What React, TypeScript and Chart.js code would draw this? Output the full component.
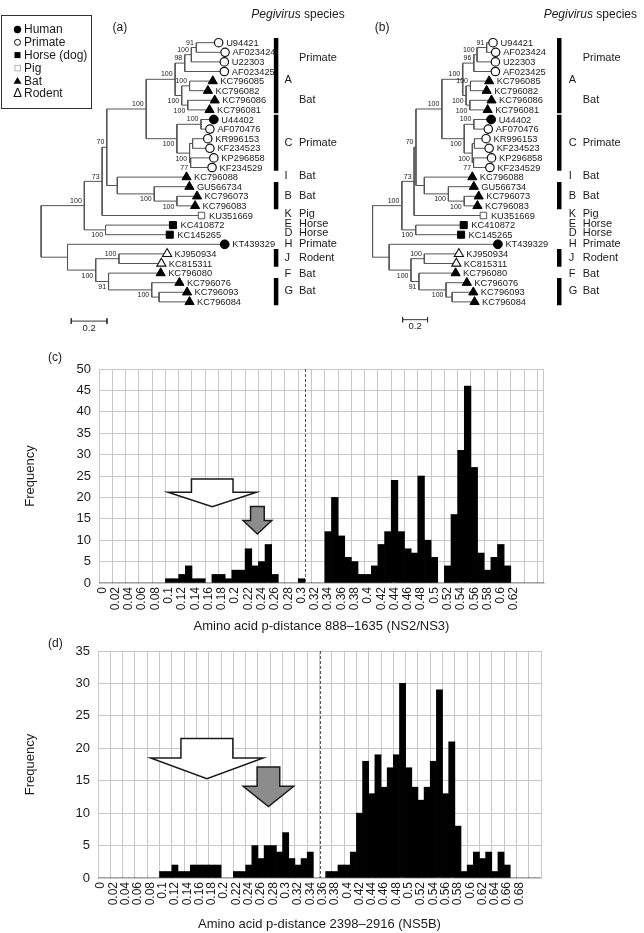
import React, { useEffect, useRef } from 'react';
import { Chart, registerables } from 'chart.js';

Chart.register(...registerables);

const FONT = "'Liberation Sans', Arial, Helvetica, sans-serif";
Chart.defaults.font.family = FONT;
Chart.defaults.color = '#1a1a1a';

// ================= Histogram data (c) and (d) =================
const BIN_WIDTH = 0.01;
const BINS_C = Array.from({ length: 67 }, (_, i) => +(i * BIN_WIDTH).toFixed(2));
const FREQ_C = [
  0, 0, 0, 0, 0, 0, 0, 0, 0, 0,
  1, 1, 2, 4, 1, 1, 0, 2, 2, 1,
  3, 3, 8, 4, 5, 9, 2, 0, 0, 0,
  1, 0, 0, 0, 12, 20, 11, 6, 5, 2,
  2, 4, 9, 12, 24, 12, 8, 7, 25, 10,
  6, 0, 4, 16, 31, 46, 27, 7, 3, 6,
  9, 4, 0, 0, 0, 0, 0,
];
const BINS_D = Array.from({ length: 72 }, (_, i) => +(i * BIN_WIDTH).toFixed(2));
const FREQ_D = [
  0, 0, 0, 0, 0, 0, 0, 0, 0, 0,
  1, 1, 2, 1, 1, 2, 2, 2, 2, 2,
  0, 0, 1, 1, 2, 5, 3, 5, 5, 4,
  7, 3, 2, 3, 4, 0, 0, 1, 1, 2,
  2, 4, 10, 18, 13, 19, 14, 17, 19, 30,
  17, 14, 12, 14, 18, 29, 13, 21, 8, 1,
  2, 4, 3, 4, 1, 4, 2, 0, 0, 0,
  0, 0,
];
const LAST_TICK_C = 0.62;
const LAST_TICK_D = 0.68;
const Y_MAX_C = 50;
const Y_MAX_D = 35;
const Y_STEP = 5;
const CUTOFF_C = 0.305;
const CUTOFF_D = 0.355;
const TITLE_C = 'Amino acid p-distance 888\u20131635 (NS2/NS3)';
const TITLE_D = 'Amino acid p-distance 2398\u20132916 (NS5B)';
// block arrows: centre (p-distance), half widths of body/head, top, shoulder and tip (frequency)
const ARROWS_C = [
  { cx: 0.1655, body: 0.0313, head: 0.0666, top: 24.3, shoulder: 21.2, tip: 17.8, fill: '#ffffff' },
  { cx: 0.2335, body: 0.0103, head: 0.0216, top: 17.9, shoulder: 14.6, tip: 11.45, fill: '#8c8c8c' },
];
const ARROWS_D = [
  { cx: 0.172, body: 0.0422, head: 0.0915, top: 21.5, shoulder: 18.5, tip: 15.3, fill: '#ffffff' },
  { cx: 0.272, body: 0.0184, head: 0.0411, top: 17.1, shoulder: 14.15, tip: 11.0, fill: '#8c8c8c' },
];

// ================= Tree data (a) and (b) =================
const LEAF_NAMES = [
  'U94421', 'AF023424', 'U22303', 'AF023425', 'KC796085', 'KC796082', 'KC796086', 'KC796081',
  'U44402', 'AF070476', 'KR996153', 'KF234523', 'KP296858', 'KF234529', 'KC796088', 'GU566734',
  'KC796073', 'KC796083', 'KU351669', 'KC410872', 'KC145265', 'KT439329', 'KJ950934', 'KC815311',
  'KC796080', 'KC796076', 'KC796093', 'KC796084',
];
const LEAF_HOST = [
  'primate', 'primate', 'primate', 'primate', 'bat', 'bat', 'bat', 'bat',
  'human', 'primate', 'primate', 'primate', 'primate', 'primate', 'bat', 'bat',
  'bat', 'bat', 'pig', 'horse', 'horse', 'human', 'rodent', 'rodent',
  'bat', 'bat', 'bat', 'bat',
];
const LEAF_DEPTH_A = [
  0.995, 1.031, 1.027, 1.027, 0.962, 0.935, 0.973, 0.944,
  0.968, 0.946, 0.934, 0.946, 0.968, 0.958, 0.815, 0.831,
  0.874, 0.863, 0.899, 0.739, 0.721, 1.029, 0.706, 0.674,
  0.670, 0.775, 0.818, 0.832,
];
const LEAF_DEPTH_B = [
  0.966, 0.987, 0.985, 0.985, 0.935, 0.915, 0.954, 0.923,
  0.951, 0.928, 0.910, 0.935, 0.954, 0.941, 0.800, 0.812,
  0.851, 0.841, 0.889, 0.731, 0.710, 1.005, 0.692, 0.672,
  0.666, 0.756, 0.808, 0.818,
];
const TOPOLOGY: Record<string, (string | number)[]> = {
  root: ['N1', 'L'],
  N1: ['N2', 'Horse'],
  N2: ['N3', 18],
  N3: ['AC', 'IB'],
  AC: ['A', 'C'],
  A: ['P3', 'BatA'],
  P3: ['P2', 3],
  P2: ['P1', 2],
  P1: [0, 1],
  BatA: ['B1', 'B2'],
  B1: [4, 5],
  B2: [6, 7],
  C: ['C1', 'C2'],
  C1: [8, 9],
  C2: ['C2a', 'C2b'],
  C2a: [10, 11],
  C2b: [12, 13],
  IB: [14, 'B'],
  B: [15, 'Bb'],
  Bb: [16, 17],
  Horse: [19, 20],
  L: [21, 'R'],
  R: ['Rod', 'Q'],
  Rod: [22, 23],
  Q: [24, 'G'],
  G: [25, 'G2'],
  G2: [26, 27],
};
const NODE_DEPTH_A: Record<string, number> = {
  root: 0, N1: 0.242, N2: 0.342, N3: 0.368, AC: 0.589, A: 0.751, P3: 0.805, P2: 0.842, P1: 0.870,
  BatA: 0.788, B1: 0.832, B2: 0.822, C: 0.761, C1: 0.896, C2: 0.832, C2a: 0.849, C2b: 0.838,
  IB: 0.427, B: 0.634, Bb: 0.761, Horse: 0.361, L: 0.148, R: 0.306, Rod: 0.436, Q: 0.378, G: 0.620, G2: 0.661,
};
const NODE_DEPTH_B: Record<string, number> = {
  root: 0, N1: 0.235, N2: 0.333, N3: 0.348, AC: 0.556, A: 0.723, P3: 0.812, P2: 0.838, P1: 0.915,
  BatA: 0.750, B1: 0.785, B2: 0.780, C: 0.735, C1: 0.812, C2: 0.800, C2a: 0.817, C2b: 0.810,
  IB: 0.415, B: 0.608, Bb: 0.735, Horse: 0.346, L: 0.133, R: 0.308, Rod: 0.415, Q: 0.372, G: 0.589, G2: 0.638,
};
const BOOT_A: [string, string, string][] = [
  ['N1', '100', 'a'], ['N2', '73', 'a'], ['N3', '70', 'a'], ['AC', '100', 'a'], ['A', '100', 'a'],
  ['P3', '98', 'a'], ['P2', '100', 'a'], ['P1', '91', 'a'], ['BatA', '100', 'b'], ['B1', '100', 'a'],
  ['B2', '100', 'b'], ['C', '100', 'b'], ['C1', '100', 'a'], ['C2', '100', 'b'], ['C2b', '77', 'b'],
  ['B', '100', 'b'], ['Bb', '100', 'b'], ['Horse', '100', 'b'], ['Rod', '100', 'a'], ['R', '100', 'b'],
  ['Q', '91', 'b'], ['G', '100', 'b'],
];
const BOOT_B: [string, string, string][] = [
  ['N1', '100', 'a'], ['N2', '73', 'a'], ['N3', '70', 'a'], ['AC', '100', 'a'], ['A', '100', 'a'],
  ['P3', '96', 'a'], ['P2', '100', 'a'], ['P1', '91', 'a'], ['BatA', '100', 'b'], ['B1', '100', 'a'],
  ['B2', '100', 'b'], ['C', '100', 'b'], ['C1', '100', 'a'], ['C2', '100', 'b'], ['C2b', '77', 'b'],
  ['B', '100', 'b'], ['Bb', '100', 'b'], ['Horse', '100', 'b'], ['Rod', '100', 'a'], ['R', '100', 'b'],
  ['Q', '91', 'b'], ['G', '100', 'b'],
];
const CLADE_BARS: [number, number][] = [[0, 7], [8, 13], [15, 17], [22, 23], [25, 27]];
const CLADE_LETTERS: [string, number][] = [
  ['A', 3.9], ['C', 10.4], ['I', 13.84], ['B', 16.0], ['K', 17.85], ['E', 18.85], ['D', 19.8],
  ['H', 20.95], ['J', 22.4], ['F', 24.1], ['G', 25.9],
];
const GROUP_NAMES: [string, number][] = [
  ['Primate', 1.56], ['Bat', 5.92], ['Primate', 10.4], ['Bat', 13.84], ['Bat', 16.0], ['Pig', 17.85],
  ['Horse', 18.85], ['Horse', 19.8], ['Primate', 20.95], ['Rodent', 22.4], ['Bat', 24.1], ['Bat', 25.9],
];
const LEGEND_ITEMS: [string, string][] = [
  ['human', 'Human'], ['primate', 'Primate'], ['horse', 'Horse (dog)'], ['pig', 'Pig'], ['bat', 'Bat'], ['rodent', 'Rodent'],
];
const HOSTS = ['human', 'primate', 'horse', 'pig', 'bat', 'rodent'];
const SCALE_BAR_LEN = 0.2;

const HOST_STYLE: Record<string, any> = {
  human: { style: 'circle', r: 4.4, fill: '#000', stroke: '#000', bw: 1 },
  primate: { style: 'circle', r: 4.2, fill: '#fff', stroke: '#111', bw: 1.2 },
  horse: { style: 'rect', r: 5, fill: '#000', stroke: '#000', bw: 1 },
  pig: { style: 'rect', r: 4.6, fill: '#fff', stroke: '#555', bw: 1 },
  bat: { style: 'triangle', r: 5.3, fill: '#000', stroke: '#000', bw: 1 },
  rodent: { style: 'triangle', r: 5.3, fill: '#fff', stroke: '#111', bw: 1.1 },
};

const TREE_A = {
  leafDepth: LEAF_DEPTH_A, nodeDepth: NODE_DEPTH_A, boot: BOOT_A,
  xMin: -0.1946, xMax: 1.7514, rowMin: -3.781, rowMax: 30.823,
  barX: 1.317, letterX: 1.364, groupX: 1.445, scaleStart: 0.169, scaleRow: 29.0,
  panel: '(a)', panelX: 0.4, panelRow: -1.6, titleX: 1.178, titleRow: -2.95, legend: true,
};
const TREE_B = {
  leafDepth: LEAF_DEPTH_B, nodeDepth: NODE_DEPTH_B, boot: BOOT_B,
  xMin: -0.29, xMax: 2.1254, rowMin: -3.781, rowMax: 30.823,
  barX: 1.497, letterX: 1.574, groupX: 1.685, scaleStart: 0.241, scaleRow: 28.85,
  panel: '(b)', panelX: 0.018, panelRow: -1.6, titleX: 1.372, titleRow: -2.95, legend: false,
};

function layoutTree(nodeDepth: Record<string, number>, leafDepth: number[]) {
  const pos: Record<string, { x: number; y: number }> = {};
  const segs: any[] = [];
  const visit = (id: string | number): { x: number; y: number } => {
    if (typeof id === 'number') return { x: leafDepth[id], y: id };
    const kids = TOPOLOGY[id].map(visit);
    const x = nodeDepth[id];
    const y = (kids[0].y + kids[kids.length - 1].y) / 2;
    segs.push({ x, y: kids[0].y }, { x, y: kids[kids.length - 1].y }, { x, y: null });
    kids.forEach((k) => segs.push({ x, y: k.y }, { x: k.x, y: k.y }, { x: k.x, y: null }));
    pos[id] = { x, y };
    return { x, y };
  };
  visit('root');
  return { pos, segs };
}

function drawLegendSymbol(ctx: CanvasRenderingContext2D, host: string, x: number, y: number) {
  ctx.save();
  ctx.lineWidth = 1;
  if (host === 'human') {
    ctx.fillStyle = '#000';
    ctx.beginPath(); ctx.arc(x, y, 3.7, 0, Math.PI * 2); ctx.fill();
  } else if (host === 'primate') {
    ctx.strokeStyle = '#111';
    ctx.beginPath(); ctx.arc(x, y, 3, 0, Math.PI * 2); ctx.stroke();
  } else if (host === 'horse') {
    ctx.fillStyle = '#000';
    ctx.fillRect(x - 3, y - 3, 6, 6);
  } else if (host === 'pig') {
    ctx.strokeStyle = '#b5b5b5';
    ctx.strokeRect(x - 2.5, y - 2.5, 5.5, 5.5);
  } else if (host === 'bat') {
    ctx.fillStyle = '#000';
    ctx.beginPath(); ctx.moveTo(x, y - 3.8); ctx.lineTo(x + 4, y + 3); ctx.lineTo(x - 4, y + 3); ctx.closePath(); ctx.fill();
  } else {
    ctx.fillStyle = '#111';
    ctx.font = `13px ${FONT}`;
    ctx.textAlign = 'center';
    ctx.textBaseline = 'middle';
    ctx.fillText('\u0394', x, y);
  }
  ctx.restore();
}

function makeTree(canvas: HTMLCanvasElement, cfg: any) {
  const { pos, segs } = layoutTree(cfg.nodeDepth, cfg.leafDepth);
  const barSegs: any[] = [];
  CLADE_BARS.forEach(([a, b]) => {
    barSegs.push({ x: cfg.barX, y: a - 0.5 }, { x: cfg.barX, y: b + 0.35 }, { x: cfg.barX, y: null });
  });
  const s0 = cfg.scaleStart, s1 = cfg.scaleStart + SCALE_BAR_LEN, sr = cfg.scaleRow;
  const scaleSegs = [
    { x: s0, y: sr }, { x: s1, y: sr }, { x: s1, y: null },
    { x: s0, y: sr - 0.28 }, { x: s0, y: sr + 0.28 }, { x: s0, y: null },
    { x: s1, y: sr - 0.28 }, { x: s1, y: sr + 0.28 },
  ];
  const markerSets = HOSTS.map((h) => {
    const st = HOST_STYLE[h];
    return {
      data: LEAF_NAMES.map((_, i) => i).filter((i) => LEAF_HOST[i] === h).map((i) => ({ x: cfg.leafDepth[i], y: i })),
      showLine: false,
      pointStyle: st.style,
      pointRadius: st.r,
      pointBackgroundColor: st.fill,
      pointBorderColor: st.stroke,
      pointBorderWidth: st.bw,
      order: 0,
    };
  });
  const textPlugin = {
    id: 'treeText',
    afterDraw(chart: any) {
      const { ctx } = chart;
      const sx = chart.scales.x, sy = chart.scales.y;
      const X = (v: number) => sx.getPixelForValue(v);
      const Y = (v: number) => sy.getPixelForValue(v);
      ctx.save();
      ctx.fillStyle = '#1a1a1a';
      ctx.textBaseline = 'middle';
      ctx.textAlign = 'left';
      ctx.font = `9.3px ${FONT}`;
      LEAF_NAMES.forEach((n, i) => ctx.fillText(n, X(cfg.leafDepth[i]) + 7.5, Y(i) + 0.5));
      ctx.font = `7px ${FONT}`;
      ctx.textAlign = 'right';
      cfg.boot.forEach(([id, txt, where]: [string, string, string]) => {
        const p = pos[id];
        ctx.fillText(txt, X(p.x) - 2.5, Y(p.y) + (where === 'a' ? -4.8 : 5.6));
      });
      ctx.font = `11px ${FONT}`;
      ctx.textAlign = 'left';
      CLADE_LETTERS.forEach(([t, r]) => ctx.fillText(t, X(cfg.letterX), Y(r)));
      GROUP_NAMES.forEach(([t, r]) => ctx.fillText(t, X(cfg.groupX), Y(r)));
      ctx.font = `9.5px ${FONT}`;
      ctx.textAlign = 'center';
      ctx.fillText(String(SCALE_BAR_LEN), X(cfg.scaleStart + SCALE_BAR_LEN / 2), Y(cfg.scaleRow) + 7);
      ctx.font = `12px ${FONT}`;
      ctx.textAlign = 'left';
      ctx.fillText(cfg.panel, X(cfg.panelX), Y(cfg.panelRow));
      const tx = X(cfg.titleX), ty = Y(cfg.titleRow);
      ctx.font = `italic 12px ${FONT}`;
      const w = ctx.measureText('Pegivirus').width;
      ctx.fillText('Pegivirus', tx, ty);
      ctx.font = `12px ${FONT}`;
      ctx.fillText(' species', tx + w, ty);
      if (cfg.legend) {
        ctx.strokeStyle = '#333';
        ctx.lineWidth = 1;
        ctx.strokeRect(1.5, 15.5, 90, 93);
        ctx.font = `12px ${FONT}`;
        LEGEND_ITEMS.forEach(([host, label], k) => {
          const y = 29.5 + 12.8 * k;
          drawLegendSymbol(ctx, host, 17.5, y);
          ctx.fillStyle = '#1a1a1a';
          ctx.textAlign = 'left';
          ctx.textBaseline = 'middle';
          ctx.fillText(label, 24, y + 0.5);
        });
      }
      ctx.restore();
    },
  };
  return new Chart(canvas, {
    type: 'scatter',
    data: {
      datasets: [
        { data: segs, showLine: true, borderColor: '#555', borderWidth: 1, pointRadius: 0, spanGaps: false, order: 5 },
        { data: barSegs, showLine: true, borderColor: '#000', borderWidth: 4.5, pointRadius: 0, borderCapStyle: 'butt', spanGaps: false, order: 5 },
        { data: scaleSegs, showLine: true, borderColor: '#333', borderWidth: 1, pointRadius: 0, spanGaps: false, order: 5 },
        ...markerSets,
      ] as any,
    },
    options: {
      responsive: false,
      animation: false,
      events: [],
      layout: { padding: 0 },
      plugins: { legend: { display: false }, tooltip: { enabled: false } },
      scales: {
        x: { type: 'linear', display: false, min: cfg.xMin, max: cfg.xMax },
        y: { type: 'linear', display: false, reverse: true, min: cfg.rowMin, max: cfg.rowMax },
      },
    } as any,
    plugins: [textPlugin],
  });
}

const GRID = '#c8c8c8';

const HIST_C = {
  bins: BINS_C, freq: FREQ_C, lastTick: LAST_TICK_C, yMax: Y_MAX_C, cutoff: CUTOFF_C, arrows: ARROWS_C,
  title: TITLE_C, panel: '(c)', panelPos: [48, 12.5], padTop: 24, padRight: 100, yAxisW: 99, xAxisH: 52, titleOffset: 43.4,
};
const HIST_D = {
  bins: BINS_D, freq: FREQ_D, lastTick: LAST_TICK_D, yMax: Y_MAX_D, cutoff: CUTOFF_D, arrows: ARROWS_D,
  title: TITLE_D, panel: '(d)', panelPos: [48, 13.5], padTop: 21, padRight: 103, yAxisW: 98, xAxisH: 55, titleOffset: 46.5,
};

function makeHist(canvas: HTMLCanvasElement, cfg: any) {
  const tickLabel = (i: number) => {
    const b = cfg.bins[i];
    if (i % 2 !== 0 || b > cfg.lastTick + 1e-9) return '';
    return String(+b.toFixed(2));
  };
  const deco = {
    id: 'histDeco',
    afterDatasetsDraw(chart: any) {
      const { ctx, chartArea: a } = chart;
      const sx = chart.scales.x, sy = chart.scales.y;
      const X = (p: number) => sx.getPixelForValue(p / BIN_WIDTH);
      const Y = (v: number) => sy.getPixelForValue(v);
      ctx.save();
      // dashed cut-off line
      ctx.strokeStyle = '#555';
      ctx.lineWidth = 1;
      ctx.setLineDash([3, 2]);
      const xc = Math.round(X(cfg.cutoff)) + 0.5;
      ctx.beginPath(); ctx.moveTo(xc, a.top); ctx.lineTo(xc, a.bottom); ctx.stroke();
      ctx.setLineDash([]);
      // arrows
      cfg.arrows.forEach((ar: any) => {
        ctx.beginPath();
        ctx.moveTo(X(ar.cx - ar.body), Y(ar.top));
        ctx.lineTo(X(ar.cx + ar.body), Y(ar.top));
        ctx.lineTo(X(ar.cx + ar.body), Y(ar.shoulder));
        ctx.lineTo(X(ar.cx + ar.head), Y(ar.shoulder));
        ctx.lineTo(X(ar.cx), Y(ar.tip));
        ctx.lineTo(X(ar.cx - ar.head), Y(ar.shoulder));
        ctx.lineTo(X(ar.cx - ar.body), Y(ar.shoulder));
        ctx.closePath();
        ctx.fillStyle = ar.fill;
        ctx.fill();
        ctx.strokeStyle = '#1a1a1a';
        ctx.lineWidth = 1.5;
        ctx.lineJoin = 'miter';
        ctx.stroke();
      });
      ctx.restore();
    },
    afterDraw(chart: any) {
      const { ctx, chartArea: a } = chart;
      ctx.save();
      ctx.fillStyle = '#1a1a1a';
      ctx.font = `13px ${FONT}`;
      ctx.textAlign = 'center';
      ctx.textBaseline = 'middle';
      ctx.fillText(cfg.title, (a.left + a.right) / 2, a.bottom + cfg.titleOffset);
      ctx.save();
      ctx.translate(30, (a.top + a.bottom) / 2);
      ctx.rotate(-Math.PI / 2);
      ctx.fillText('Frequency', 0, 0);
      ctx.restore();
      ctx.font = `12px ${FONT}`;
      ctx.textAlign = 'left';
      ctx.fillText(cfg.panel, cfg.panelPos[0], cfg.panelPos[1]);
      ctx.restore();
    },
  };
  return new Chart(canvas, {
    type: 'bar',
    data: {
      labels: cfg.bins.map((b: number) => String(b)),
      datasets: [{ data: cfg.freq, backgroundColor: '#000', borderWidth: 0, barPercentage: 1, categoryPercentage: 1 }],
    },
    options: {
      responsive: false,
      animation: false,
      events: [],
      layout: { padding: { top: cfg.padTop, right: cfg.padRight, left: 0, bottom: 0 } },
      plugins: { legend: { display: false }, tooltip: { enabled: false } },
      scales: {
        x: {
          offset: true,
          grid: {
            offset: true,
            drawTicks: false,
            color: (c: any) => (c.type === 'tick' && c.index % 2 === 1 ? 'rgba(0,0,0,0)' : GRID),
          },
          border: { color: GRID },
          ticks: {
            autoSkip: false, minRotation: 90, maxRotation: 90, padding: 4,
            font: { size: 12 }, color: '#1a1a1a',
            callback: (_v: any, i: number) => tickLabel(i),
          },
          afterFit: (s: any) => { s.height = cfg.xAxisH; s.paddingLeft = 0; s.paddingRight = 0; },
        },
        y: {
          min: 0, max: cfg.yMax,
          grid: { color: GRID, drawTicks: false },
          border: { color: GRID },
          ticks: { stepSize: Y_STEP, padding: 8, font: { size: 13 }, color: '#1a1a1a' },
          afterFit: (s: any) => { s.width = cfg.yAxisW; },
        },
      },
    } as any,
    plugins: [deco],
  });
}

export default function App() {
  const refA = useRef<HTMLCanvasElement>(null);
  const refB = useRef<HTMLCanvasElement>(null);
  const refC = useRef<HTMLCanvasElement>(null);
  const refD = useRef<HTMLCanvasElement>(null);
  useEffect(() => {
    document.body.style.margin = '0';
    const charts = [
      makeTree(refA.current as HTMLCanvasElement, TREE_A),
      makeTree(refB.current as HTMLCanvasElement, TREE_B),
      makeHist(refC.current as HTMLCanvasElement, HIST_C),
      makeHist(refD.current as HTMLCanvasElement, HIST_D),
    ];
    return () => charts.forEach((c) => c.destroy());
  }, []);
  const abs = (left: number, top: number): React.CSSProperties => ({ position: 'absolute', left, top, display: 'block' });
  return (
    <div style={{ position: 'relative', width: 644, height: 933, background: '#fff', overflow: 'hidden' }}>
      <style>{'body{margin:0}'}</style>
      <canvas ref={refA} width={360} height={345} style={abs(0, 0)} />
      <canvas ref={refB} width={314} height={345} style={abs(330, 0)} />
      <canvas ref={refC} width={644} height={290} style={abs(0, 345)} />
      <canvas ref={refD} width={644} height={303} style={abs(0, 630)} />
    </div>
  );
}
